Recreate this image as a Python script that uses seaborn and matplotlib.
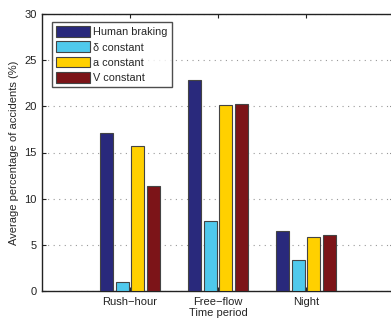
import numpy as np
import pandas as pd
import matplotlib
matplotlib.use('Agg')
import matplotlib.pyplot as plt
import seaborn as sns

# Data
periods = ['Rush\u2212hour', 'Free\u2212flow', 'Night']
methods = ['Human braking', '\u03b4 constant', 'a constant', 'V constant']
human_braking = [17.1, 22.9, 6.5]
delta_constant = [1.0, 7.6, 3.4]
a_constant = [15.7, 20.1, 5.9]
v_constant = [11.4, 20.3, 6.1]
colors = ['#29297C', '#4FC9EC', '#FFD000', '#7C1418']

rows = []
for m, vals in zip(methods, [human_braking, delta_constant, a_constant, v_constant]):
    for p, v in zip(periods, vals):
        rows.append({'period': p, 'method': m, 'value': v})
data = pd.DataFrame(rows)

sns.set_style('white')
plt.rcParams['font.family'] = ['Liberation Sans', 'DejaVu Sans']

fig = plt.figure(figsize=(3.91, 3.22), dpi=100)
ax = fig.add_axes([42 / 391, 31 / 322, 352 / 391, 277 / 322])

sns.barplot(data=data, x='period', y='value', hue='method', order=periods,
            hue_order=methods, palette=colors, saturation=1, width=0.72, gap=0.18,
            edgecolor='#444444', linewidth=0.8, ax=ax, zorder=3)

ax.set_xlim(-1, 3)
ax.set_ylim(0, 30)
ax.set_yticks([0, 5, 10, 15, 20, 25, 30])
ax.yaxis.grid(True, linestyle=(0, (1, 4)), color='#999999', linewidth=0.8)
ax.xaxis.grid(False)
ax.set_axisbelow(True)

for s in ax.spines.values():
    s.set_color('#222222')
    s.set_linewidth(1.0)

ax.tick_params(axis='both', direction='in', length=3, labelsize=8, colors='#222222',
               top=True, right=True, left=True, bottom=True, pad=4)
ax.set_xlabel('Time period', fontsize=8, labelpad=1)
ax.set_ylabel('Average percentage of accidents (%)', fontsize=8, labelpad=4)

leg = ax.legend(loc='upper left', fontsize=7.8, frameon=True, fancybox=False,
                edgecolor='#222222', handlelength=3.1, handleheight=1.15,
                borderpad=0.4, labelspacing=0.38, handletextpad=0.3,
                borderaxespad=0, bbox_to_anchor=(10 / 352, 1 - 8 / 277))
leg.get_frame().set_linewidth(1.0)

fig.savefig('out.png', dpi=100)
